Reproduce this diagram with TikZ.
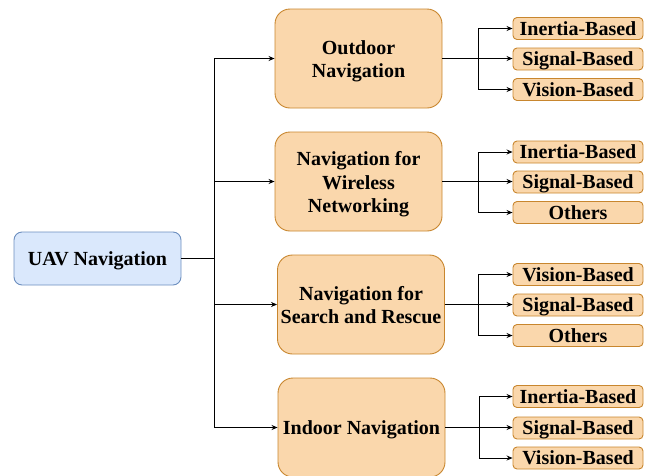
\documentclass[tikz,border=0pt]{standalone}
\usepackage{fontspec}
\setmainfont{Liberation Serif}
\usetikzlibrary{arrows.meta}
\definecolor{rootfill}{HTML}{DAE8FC}
\definecolor{rootline}{HTML}{6C8EBF}
\definecolor{catfill}{HTML}{FAD7AC}
\definecolor{catline}{HTML}{C8862E}
% struts on the first and last line keep the capitals of a text block centred
\newcommand{\firstlinestrut}{\rule{0pt}{20pt}}
\newcommand{\lastlinestrut}{\rule[-5pt]{0pt}{5pt}}
\tikzset{
  boldtext/.style={font=\fontsize{20}{23.5}\selectfont\bfseries},
  % single-line boxes: fixed text height/depth do the same job
  oneline/.style={text height=15pt, text depth=2pt},
  rootbox/.style={draw=rootline, fill=rootfill, line width=0.9pt, rounded corners=8pt,
    minimum width=167pt, minimum height=53pt, inner sep=0pt, align=center,
    boldtext, oneline},
  catbox/.style={draw=catline, fill=catfill, line width=0.9pt, rounded corners=15pt,
    minimum width=167pt, minimum height=99pt, inner sep=0pt, align=center,
    boldtext},
  leafbox/.style={draw=catline, fill=catfill, line width=0.9pt, rounded corners=4pt,
    minimum width=130pt, minimum height=22pt, inner sep=0pt, align=center,
    boldtext, oneline},
  link/.style={draw=black, line width=0.9pt},
  arrowlink/.style={link, -{Stealth[length=6pt,width=5pt]}},
}
\begin{document}
\begin{tikzpicture}[x=1pt, y=-1pt]
\useasboundingbox (0,0) rectangle (654,475);

% root
\node[rootbox] (uav) at (97.5,258.5) {UAV Navigation};

% categories
\node[catbox] (out) at (358.5,58.5)
  {\firstlinestrut Outdoor\\Navigation\lastlinestrut};
\node[catbox] (wir) at (358.5,181.5)
  {\firstlinestrut Navigation for\\Wireless\\Networking\lastlinestrut};
\node[catbox] (sar) at (361,304.5)
  {\firstlinestrut Navigation for\\Search and Rescue\lastlinestrut};
\node[catbox, oneline] (ind) at (361.5,427.5) {Indoor Navigation};

% leaves
\node[leafbox] (out1) at (578,28.5) {Inertia-Based};
\node[leafbox] (out2) at (578,59) {Signal-Based};
\node[leafbox] (out3) at (578,89.5) {Vision-Based};

\node[leafbox] (wir1) at (578,152) {Inertia-Based};
\node[leafbox] (wir2) at (578,182) {Signal-Based};
\node[leafbox] (wir3) at (578,212.5) {Others};

\node[leafbox] (sar1) at (578,274.5) {Vision-Based};
\node[leafbox] (sar2) at (578,305) {Signal-Based};
\node[leafbox] (sar3) at (578,335.5) {Others};

\node[leafbox] (ind1) at (578,396.5) {Inertia-Based};
\node[leafbox] (ind2) at (578,428) {Signal-Based};
\node[leafbox] (ind3) at (578,458) {Vision-Based};

% trunk from the root to the categories
\coordinate (spine) at (214,258.5);
\draw[link] (uav.east) -- (spine);
\draw[arrowlink] (spine) |- (out.west);
\draw[arrowlink] (spine) |- (wir.west);
\draw[arrowlink] (spine) |- (sar.west);
\draw[arrowlink] (spine) |- (ind.west);

% branches from each category to its leaves
\foreach \c/\bx in {out/478, wir/478, sar/478.5, ind/479} {
  \coordinate (\c b) at (\bx, 0);
  \draw[arrowlink] (\c.east) -- (\c.east -| \c2.west);
  \draw[arrowlink] (\c.east -| \c b) |- (\c1.west);
  \draw[arrowlink] (\c.east -| \c b) |- (\c3.west);
}
\end{tikzpicture}
\end{document}
